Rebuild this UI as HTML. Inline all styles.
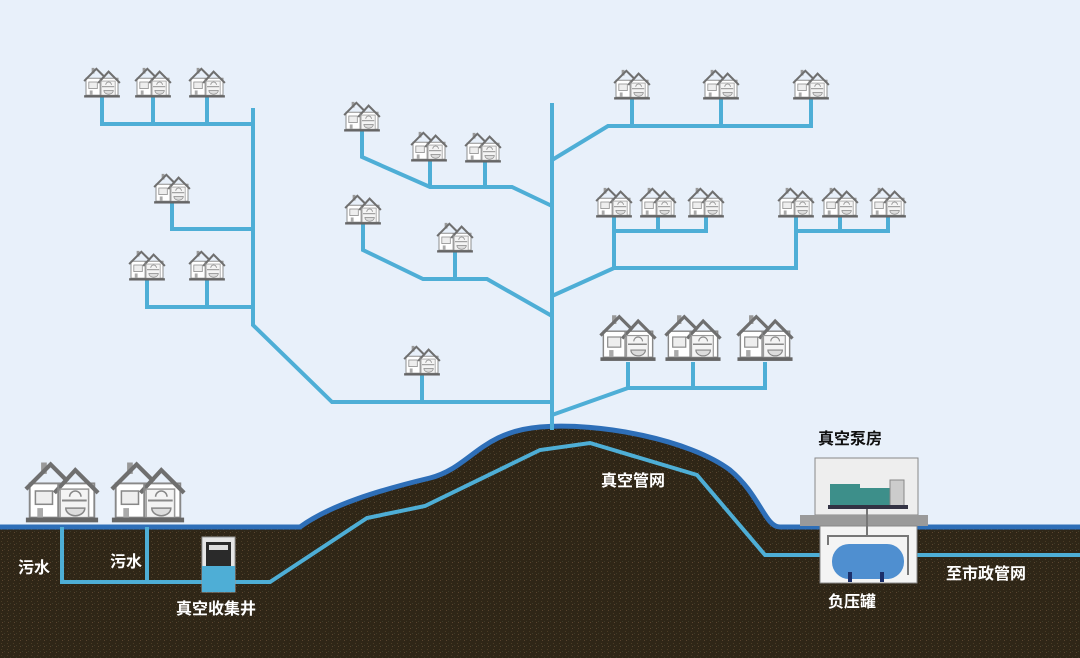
<!DOCTYPE html>
<html><head><meta charset="utf-8"><style>
html,body{margin:0;padding:0;background:#e8f0fa;}
svg{display:block}
text{font-family:"Liberation Sans","Noto Sans CJK SC",sans-serif;font-weight:bold;}
</style></head><body>
<svg width="1080" height="658" viewBox="0 0 1080 658" xmlns="http://www.w3.org/2000/svg">
<defs>
<symbol id="h" viewBox="0 0 40 34">
<rect x="3" y="13" width="34" height="18" fill="#fff" stroke="#888" stroke-width="1"/>
<rect x="9" y="2" width="3" height="6" fill="#999"/>
<polyline points="1,16 14,3 23,12" fill="none" stroke="#6f6f6f" stroke-width="2.2"/>
<polyline points="16,18 27,6 39,18" fill="none" stroke="#6f6f6f" stroke-width="2.2"/>
<rect x="19" y="16" width="15" height="15" fill="#f4f4f4" stroke="#999" stroke-width="0.8"/>
<line x1="18" y1="13" x2="18" y2="31" stroke="#888" stroke-width="1"/>
<rect x="6" y="17" width="9" height="7" fill="#eee" stroke="#888" stroke-width="0.8"/>
<path d="M24 20 a3 3 0 0 1 6 0" fill="none" stroke="#888" stroke-width="0.8"/>
<line x1="20" y1="22" x2="33" y2="22" stroke="#888" stroke-width="1"/>
<path d="M22 26 h10 a5 4 0 0 1 -10 0z" fill="#ddd" stroke="#888" stroke-width="0.8"/>
<rect x="7" y="26" width="3" height="5" fill="#aaa"/>
<rect x="1" y="31" width="38" height="2.5" fill="#666"/>
</symbol>
<pattern id="soil" width="6" height="6" patternUnits="userSpaceOnUse">
<rect width="6" height="6" fill="#2f2617"/>
<rect x="1" y="1" width="1" height="1" fill="#4a3c25"/>
<rect x="4" y="3" width="1" height="1" fill="#3d3a28"/>
<rect x="2" y="4" width="1" height="1" fill="#5a4530"/>
</pattern>
</defs>
<rect width="1080" height="658" fill="#e8f0fa"/>
<path d="M0 527 L300 527 C330 505 380 490 430 478 C470 468 480 432 540 427 C600 422 690 440 730 470 C760 495 765 527 780 527 L1080 527 L1080 658 L0 658 Z" fill="url(#soil)"/>
<path d="M0 527 L300 527 C330 505 380 490 430 478 C470 468 480 432 540 427 C600 422 690 440 730 470 C760 495 765 527 780 527 L1080 527" fill="none" stroke="#2e6fb8" stroke-width="5"/>
<g fill="none" stroke="#4eaed6" stroke-width="4" stroke-linejoin="miter">
<polyline points="253,108 253,325 332,402 552,402"/>
<polyline points="102,97 102,124 253,124"/>
<line x1="153" y1="97" x2="153" y2="124"/>
<line x1="207" y1="97" x2="207" y2="124"/>
<polyline points="172,203 172,229 253,229"/>
<polyline points="147,280 147,307 253,307"/>
<line x1="207" y1="280" x2="207" y2="307"/>
<line x1="422" y1="375" x2="422" y2="402"/>
<line x1="552" y1="103" x2="552" y2="430"/>
<polyline points="362,131 362,157 430,187 512,187 552,206"/>
<line x1="430" y1="160" x2="430" y2="187"/>
<line x1="485" y1="162" x2="485" y2="187"/>
<polyline points="363,224 363,250 423,279 487,279 552,316"/>
<line x1="455" y1="252" x2="455" y2="279"/>
<polyline points="552,160 608,126 811,126 811,99"/>
<line x1="632" y1="99" x2="632" y2="126"/>
<line x1="721" y1="99" x2="721" y2="126"/>
<polyline points="552,296 614,268 796,268 796,217"/>
<polyline points="614,217 614,268"/>
<polyline points="614,231 706,231 706,217"/>
<line x1="658" y1="217" x2="658" y2="231"/>
<polyline points="796,231 888,231 888,217"/>
<line x1="840" y1="217" x2="840" y2="231"/>
<polyline points="552,415 628,388 765,388 765,362"/>
<line x1="628" y1="362" x2="628" y2="388"/>
<line x1="693" y1="362" x2="693" y2="388"/>
<polyline points="62,527 62,582 270,582 367,518 425,506 540,450 590,443 697,475 765,555 820,555"/>
<line x1="147" y1="527" x2="147" y2="582"/>
<line x1="905" y1="555" x2="1080" y2="555"/>
</g>
<g>
<use href="#h" x="83" y="66" width="38" height="32"/>
<use href="#h" x="134" y="66" width="38" height="32"/>
<use href="#h" x="188" y="66" width="38" height="32"/>
<use href="#h" x="153" y="172" width="38" height="32"/>
<use href="#h" x="128" y="249" width="38" height="32"/>
<use href="#h" x="188" y="249" width="38" height="32"/>
<use href="#h" x="343" y="100" width="38" height="32"/>
<use href="#h" x="410" y="130" width="38" height="32"/>
<use href="#h" x="464" y="131" width="38" height="32"/>
<use href="#h" x="344" y="193" width="38" height="32"/>
<use href="#h" x="436" y="221" width="38" height="32"/>
<use href="#h" x="403" y="344" width="38" height="32"/>
<use href="#h" x="613" y="68" width="38" height="32"/>
<use href="#h" x="702" y="68" width="38" height="32"/>
<use href="#h" x="792" y="68" width="38" height="32"/>
<use href="#h" x="595" y="186" width="38" height="32"/>
<use href="#h" x="639" y="186" width="38" height="32"/>
<use href="#h" x="687" y="186" width="38" height="32"/>
<use href="#h" x="777" y="186" width="38" height="32"/>
<use href="#h" x="821" y="186" width="38" height="32"/>
<use href="#h" x="869" y="186" width="38" height="32"/>
<use href="#h" x="599" y="312" width="58" height="50"/>
<use href="#h" x="664" y="312" width="58" height="50"/>
<use href="#h" x="736" y="312" width="58" height="50"/>
<use href="#h" x="24" y="458" width="76" height="66"/>
<use href="#h" x="110" y="458" width="76" height="66"/>
</g>
<rect x="202" y="537" width="33" height="55" fill="#e6e6e6" stroke="#999"/>
<rect x="206" y="542" width="25" height="24" fill="#2a2a2a"/>
<rect x="209" y="545" width="19" height="5" fill="#ddd"/>
<rect x="202" y="566" width="33" height="26" fill="#4eaed6"/>
<rect x="815" y="458" width="103" height="57" fill="#eeeeee" stroke="#888"/>
<rect x="830" y="484" width="30" height="22" fill="#3d8f8a"/>
<rect x="860" y="488" width="30" height="18" fill="#3d8f8a"/>
<rect x="890" y="480" width="14" height="26" fill="#ccc" stroke="#888"/>
<rect x="828" y="505" width="80" height="4" fill="#334"/>
<rect x="800" y="515" width="128" height="11" fill="#9a9a9a"/>
<rect x="820" y="526" width="97" height="57" fill="#f4f4f4" stroke="#888"/>
<polyline points="828,545 828,536 908,536 908,575" fill="none" stroke="#777" stroke-width="2"/>
<line x1="867" y1="509" x2="867" y2="536" stroke="#777" stroke-width="2"/>
<rect x="832" y="544" width="72" height="35" rx="17" fill="#4f8fd0"/>
<rect x="848" y="572" width="4" height="10" fill="#1b2f6a"/>
<rect x="880" y="572" width="4" height="10" fill="#1b2f6a"/>
<g fill="#fff" font-size="16">
<text x="18" y="573">污水</text>
<text x="110" y="567">污水</text>
<text x="176" y="614">真空收集井</text>
<text x="601" y="486">真空管网</text>
<text x="828" y="607">负压罐</text>
<text x="946" y="579">至市政管网</text>
</g>
<text x="818" y="444" font-size="16" fill="#111">真空泵房</text>
</svg>
</body></html>
